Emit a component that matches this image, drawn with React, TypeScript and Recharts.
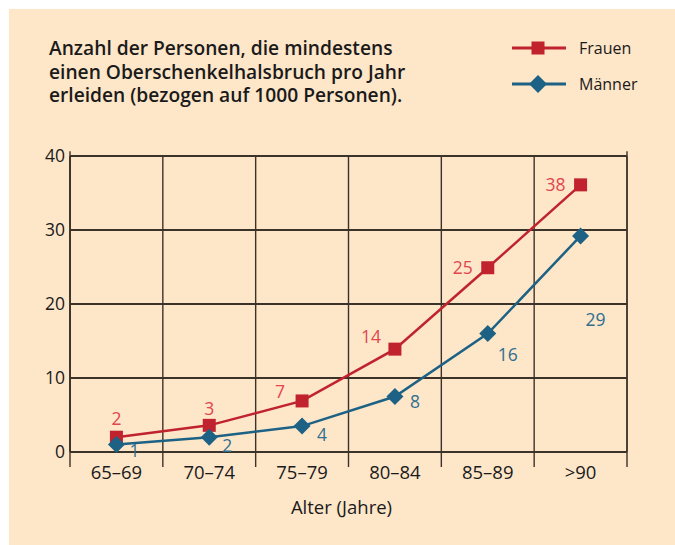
import {
  CartesianGrid,
  Label,
  LabelList,
  Line,
  LineChart,
  ReferenceLine,
  XAxis,
  YAxis,
} from "recharts";

const categories = ["65–69", "70–74", "75–79", "80–84", "85–89", ">90"];
const frauen = [2.0, 3.6, 6.9, 13.9, 24.9, 36.1];
const maenner = [1.0, 2.0, 3.5, 7.5, 16.0, 29.2];
const frauenLabels = ["2", "3", "7", "14", "25", "38"];
const maennerLabels = ["1", "2", "4", "8", "16", "29"];
const yTicks = [0, 10, 20, 30, 40];

// label offsets relative to the point (px)
const frauenOffsets = [
  [0, -18],
  [0, -16],
  [-22, -9],
  [-24, -12],
  [-25, 0],
  [-25, 0],
];
const maennerOffsets = [
  [18, 6],
  [18, 9],
  [20, 9],
  [20, 5],
  [20, 21],
  [15, 84],
];

const data = categories.map((name, i) => ({
  pos: i + 0.5,
  name,
  frauen: frauen[i],
  maenner: maenner[i],
  frauenLabel: frauenLabels[i],
  maennerLabel: maennerLabels[i],
}));

const RED = "#c0232e";
const BLUE = "#1d6285";
const RED_TEXT = "#e0474f";
const BLUE_TEXT = "#2f6f90";
const GRID = "#3b3229";
const FONT = "'Open Sans', 'Noto Sans', sans-serif";

const PLOT_LEFT = 61;
const PLOT_WIDTH = 557;
const BAND = PLOT_WIDTH / categories.length;

const Square = (props: any) => {
  const { cx, cy } = props;
  if (cx == null || cy == null) return null;
  return <rect x={cx - 6.5} y={cy - 6.5} width={13} height={13} fill={RED} />;
};

const Diamond = (props: any) => {
  const { cx, cy } = props;
  if (cx == null || cy == null) return null;
  const r = 8.5;
  return (
    <polygon
      points={`${cx},${cy - r} ${cx + r},${cy} ${cx},${cy + r} ${cx - r},${cy}`}
      fill={BLUE}
    />
  );
};

const makeLabel = (offsets: number[][], color: string) => (props: any) => {
  const x = props.viewBox?.x ?? props.x;
  const y = props.viewBox?.y ?? props.y;
  const i = props.index ?? 0;
  const [dx, dy] = offsets[i] || [0, 0];
  return (
    <text
      x={x + dx}
      y={y + dy}
      dy="0.35em"
      textAnchor="middle"
      fill={color}
      fontSize={17.5}
      fontFamily={FONT}
    >
      {props.value}
    </text>
  );
};

const XTick = (props: any) => {
  const { x, y, payload } = props;
  const name = categories[payload.value];
  if (name === undefined) return null;
  return (
    <text
      x={x + BAND / 2}
      y={y + 6}
      dy="0.35em"
      textAnchor="middle"
      fill="#1a1a1a"
      fontSize={18.5}
      fontFamily={FONT}
    >
      {name}
    </text>
  );
};

const ChartLegend = () => {
  const rows = [
    { name: "Frauen", color: RED, marker: "square" },
    { name: "Männer", color: BLUE, marker: "diamond" },
  ];
  return (
    <div style={{ position: "absolute", left: 500, top: 21, width: 160 }}>
      {rows.map((r) => (
        <div
          key={r.name}
          style={{ display: "flex", alignItems: "center", height: 36 }}
        >
          <svg width={58} height={24}>
            <line x1={3} y1={12} x2={57} y2={12} stroke={r.color} strokeWidth={3} />
            {r.marker === "square" ? (
              <rect x={22.5} y={5.5} width={13} height={13} fill={r.color} />
            ) : (
              <polygon points="29,3 38,12 29,21 20,12" fill={r.color} />
            )}
          </svg>
          <span
            style={{
              marginLeft: 12,
              fontFamily: FONT,
              fontSize: 16,
              color: "#1a1a1a",
            }}
          >
            {r.name}
          </span>
        </div>
      ))}
    </div>
  );
};

const titleLines = [
  "Anzahl der Personen, die mindestens",
  "einen Oberschenkelhalsbruch pro Jahr",
  "erleiden (bezogen auf 1000 Personen).",
];

export default function App() {
  return (
    <div
      style={{
        position: "fixed",
        top: 9,
        left: 9,
        right: 0,
        bottom: 0,
        background: "#fee6c9",
      }}
    >
      <div
        style={{
          position: "absolute",
          left: 40,
          top: 27,
          fontFamily: FONT,
          fontWeight: 600,
          fontSize: 19.2,
          color: "#1a1a1a",
          zIndex: 2,
        }}
      >
        {titleLines.map((t) => (
          <div key={t} style={{ height: 23.5, lineHeight: "23.5px" }}>
            {t}
          </div>
        ))}
      </div>
      <ChartLegend />
      <LineChart
        width={666}
        height={536}
        data={data}
        margin={{ top: 147, right: 48, bottom: 31, left: 0 }}
      >
        <CartesianGrid
          horizontal={true}
          vertical={false}
          stroke={GRID}
          strokeWidth={2}
        />
        <CartesianGrid
          horizontal={false}
          vertical={true}
          stroke={GRID}
          strokeWidth={1.4}
          verticalCoordinatesGenerator={() =>
            categories
              .map((_, i) => PLOT_LEFT + i * BAND)
              .concat([PLOT_LEFT + PLOT_WIDTH])
          }
        />
        <XAxis
          type="number"
          dataKey="pos"
          domain={[0, categories.length]}
          ticks={[0, 1, 2, 3, 4, 5, 6]}
          interval={0}
          height={62}
          tickSize={15}
          tickMargin={0}
          tickLine={{ stroke: GRID, strokeWidth: 1.4 }}
          axisLine={{ stroke: GRID, strokeWidth: 2 }}
          tick={<XTick />}
        >
          <Label
            value="Alter (Jahre)"
            position="insideBottom"
            offset={0}
            dx={-7}
            fill="#1a1a1a"
            fontSize={18.5}
            fontFamily={FONT}
          />
        </XAxis>
        <YAxis
          type="number"
          domain={[0, 40]}
          ticks={yTicks}
          width={61}
          tickLine={false}
          tickSize={0}
          tickMargin={5}
          axisLine={{ stroke: GRID, strokeWidth: 1.4 }}
          tick={{ fill: "#1a1a1a", fontSize: 17.5, fontFamily: FONT }}
        />
        <ReferenceLine
          segment={[
            { x: 0, y: 0 },
            { x: 0, y: 40.65 },
          ]}
          ifOverflow="visible"
          stroke={GRID}
          strokeWidth={1.4}
        />
        <ReferenceLine
          segment={[
            { x: 6, y: 0 },
            { x: 6, y: 40.65 },
          ]}
          ifOverflow="visible"
          stroke={GRID}
          strokeWidth={1.4}
        />
        <Line
          dataKey="frauen"
          stroke={RED}
          strokeWidth={2.5}
          dot={<Square />}
          activeDot={false}
          isAnimationActive={false}
        >
          <LabelList
            dataKey="frauenLabel"
            content={makeLabel(frauenOffsets, RED_TEXT)}
          />
        </Line>
        <Line
          dataKey="maenner"
          stroke={BLUE}
          strokeWidth={2.5}
          dot={<Diamond />}
          activeDot={false}
          isAnimationActive={false}
        >
          <LabelList
            dataKey="maennerLabel"
            content={makeLabel(maennerOffsets, BLUE_TEXT)}
          />
        </Line>
      </LineChart>
    </div>
  );
}
